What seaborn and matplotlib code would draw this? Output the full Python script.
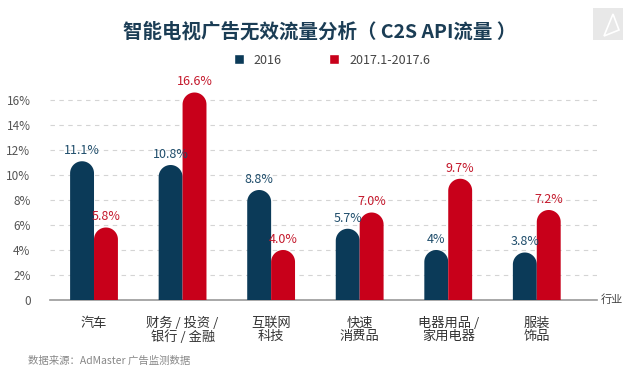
import matplotlib
matplotlib.use("Agg")
import matplotlib.pyplot as plt
import seaborn as sns
import pandas as pd
import numpy as np
from matplotlib.patches import PathPatch, Rectangle, Polygon
from matplotlib.path import Path

categories = ["汽车", "财务 / 投资 /\n银行 / 金融", "互联网\n科技", "快速\n消费品", "电器用品 /\n家用电器", "服装\n饰品"]
series_names = ["2016", "2017.1-2017.6"]
values_2016 = [11.1, 10.8, 8.8, 5.7, 4.0, 3.8]
values_2017 = [5.8, 16.6, 4.0, 7.0, 9.7, 7.2]
labels_2016 = ["11.1%", "10.8%", "8.8%", "5.7%", "4%", "3.8%"]
labels_2017 = ["5.8%", "16.6%", "4.0%", "7.0%", "9.7%", "7.2%"]
yticks = [0, 2, 4, 6, 8, 10, 12, 14, 16]
ytick_labels = ["0", "2%", "4%", "6%", "8%", "10%", "12%", "14%", "16%"]

BLUE = "#0b3a58"
RED = "#c8001a"
BLUE_TXT = "#1f4d6b"
RED_TXT = "#c4192c"

sns.set_style("white")
plt.rcParams["font.family"] = ["Noto Sans CJK SC", "DejaVu Sans"]

df = pd.DataFrame({
    "cat": categories * 2,
    "period": [series_names[0]] * 6 + [series_names[1]] * 6,
    "value": values_2016 + values_2017,
})

W, H = 640, 379
fig = plt.figure(figsize=(W / 100, H / 100), dpi=100)
ax_left, ax_right, ax_bottom = 50, 597, 300
ymax = 17.0
px_per_y = 12.5
ax_top = ax_bottom - ymax * px_per_y
ax = fig.add_axes([ax_left / W, 1 - ax_bottom / H, (ax_right - ax_left) / W, (ax_bottom - ax_top) / H])

sns.barplot(data=df, x="cat", y="value", hue="period", palette=[BLUE, RED],
            width=0.54, saturation=1, gap=0, ax=ax, zorder=3)

xmin, xmax = -0.497, 5.68
ax.set_xlim(xmin, xmax)
ax.set_ylim(0, ymax)
px_per_x = (ax_right - ax_left) / (xmax - xmin)

# rounded (semicircular) tops
all_labels = [labels_2016, labels_2017]
txt_colors = [BLUE_TXT, RED_TXT]
theta = np.linspace(np.pi, 0, 40)
for ci, cont in enumerate(ax.containers):
    for bi, bar in enumerate(cont.patches):
        x, w, h = bar.get_x(), bar.get_width(), bar.get_height()
        bar.set_visible(False)
        rx = w / 2
        ry = rx * px_per_x / px_per_y
        cx, cy = x + rx, h - ry
        verts = [(x, 0), (x, cy)]
        verts += [(cx + rx * np.cos(t), cy + ry * np.sin(t)) for t in theta]
        verts += [(x + w, 0), (x, 0)]
        codes = [Path.MOVETO] + [Path.LINETO] * (len(verts) - 2) + [Path.CLOSEPOLY]
        p = PathPatch(Path(verts, codes), facecolor=bar.get_facecolor(), edgecolor="none",
                      zorder=3)
        ax.add_patch(p)
        ax.annotate(all_labels[ci][bi], (x + w / 2, h), xytext=(0, 3),
                    textcoords="offset points", ha="center", va="bottom",
                    fontsize=9, color=txt_colors[ci], zorder=4)

ax.set_yticks(yticks)
ax.set_yticklabels(ytick_labels, fontsize=8.5, color="#555555")
ax.set_xticks(range(len(categories)))
ax.set_xticklabels(categories, fontsize=9.5, color="#333333", linespacing=1.0, va="top")
ax.tick_params(axis="x", length=0, pad=12)
ax.tick_params(axis="y", length=0, pad=14)
ax.set_xlabel("")
ax.set_ylabel("")
ax.yaxis.grid(True, linestyle=(0, (4, 4)), color="#d4d4d4", linewidth=0.8, zorder=0)
ax.set_axisbelow(True)
for s in ["left", "right", "top"]:
    ax.spines[s].set_visible(False)
ax.spines["bottom"].set_color("#999999")
ax.spines["bottom"].set_linewidth(1.2)

sns.move_legend(ax, "center", bbox_to_anchor=(0.5 + 12 / W, 1 - 60 / H), bbox_transform=fig.transFigure,
                ncol=2, frameon=False, title=None, fontsize=9,
                handlelength=0.8, handleheight=0.8, columnspacing=3.8, handletextpad=0.8)
for t in ax.get_legend().get_texts():
    t.set_color("#444444")

fig.text(320 / W, 1 - 32 / H, "智能电视广告无效流量分析（ C2S API流量 ）", ha="center", va="center",
         fontsize=14, fontweight="bold", color="#1b3d55")
fig.text(612 / W, 1 - 300 / H, "行业", ha="center", va="center", fontsize=8, color="#444444")
fig.text(28 / W, 1 - 361 / H, "数据来源：AdMaster 广告监测数据", ha="left", va="center",
         fontsize=7.5, color="#888888")

# small logo at top right
fig.patches.append(Rectangle((593 / W, 1 - 40 / H), 30 / W, 32 / H, transform=fig.transFigure,
                             facecolor="#e8e8e8", edgecolor="none"))
fig.patches.append(Polygon([(604 / W, 1 - 36 / H), (613 / W, 1 - 14 / H), (619 / W, 1 - 30 / H)],
                           closed=True, transform=fig.transFigure, facecolor="none",
                           edgecolor="white", linewidth=1.2))

fig.savefig("out.png", dpi=100)
